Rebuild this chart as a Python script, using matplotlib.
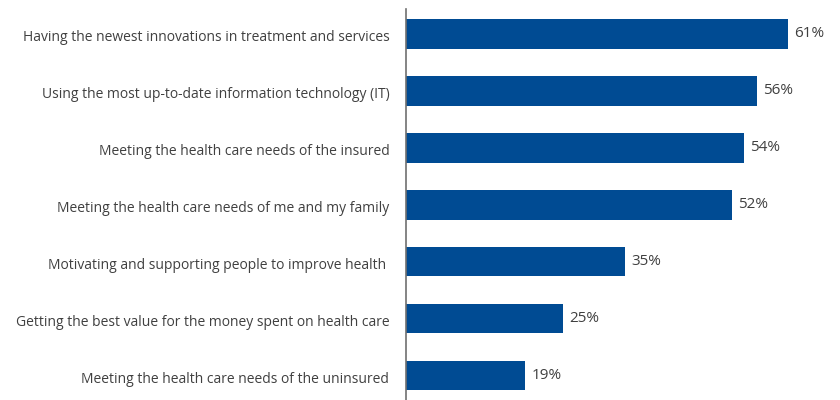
import matplotlib
matplotlib.use("Agg")
import matplotlib.pyplot as plt
import matplotlib.transforms as mtransforms

categories = [
    "Having the newest innovations in treatment and services",
    "Using the most up-to-date information technology (IT)",
    "Meeting the health care needs of the insured",
    "Meeting the health care needs of me and my family",
    "Motivating and supporting people to improve health ",
    "Getting the best value for the money spent on health care",
    "Meeting the health care needs of the uninsured",
]
values = [61, 56, 54, 52, 35, 25, 19]
value_labels = ["61%", "56%", "54%", "52%", "35%", "25%", "19%"]

bar_color = "#004B93"
text_color = "#404040"

plt.rcParams["font.family"] = ["Open Sans", "DejaVu Sans"]

fig = plt.figure(figsize=(8.4, 4.0), dpi=100)
ax = fig.add_axes([406 / 840, 0.0, 434 / 840, 1 - 9.5 / 400])

y = list(range(len(categories)))
ax.barh(y, values, height=0.52, color=bar_color)
ax.set_ylim(len(categories) - 1 + 0.43, -0.43)
ax.set_xlim(0, 69.3)

ax.set_yticks(y)
ax.set_yticklabels(categories, fontsize=10, color=text_color)
ax.tick_params(axis="y", length=0, pad=12)
ax.set_xticks([])

# nudge category labels slightly downward
shift = mtransforms.ScaledTranslation(0, -2 / 100, fig.dpi_scale_trans)
for lbl in ax.get_yticklabels():
    lbl.set_transform(lbl.get_transform() + shift)

for sp in ["top", "right", "bottom"]:
    ax.spines[sp].set_visible(False)
ax.spines["left"].set_color("#707070")
ax.spines["left"].set_linewidth(1.2)

for yi, v, lab in zip(y, values, value_labels):
    ax.annotate(lab, xy=(v, yi), xytext=(4.5, 0), textcoords="offset points",
                va="center", ha="left", fontsize=11, color=text_color)

fig.savefig("out.png", dpi=100)
